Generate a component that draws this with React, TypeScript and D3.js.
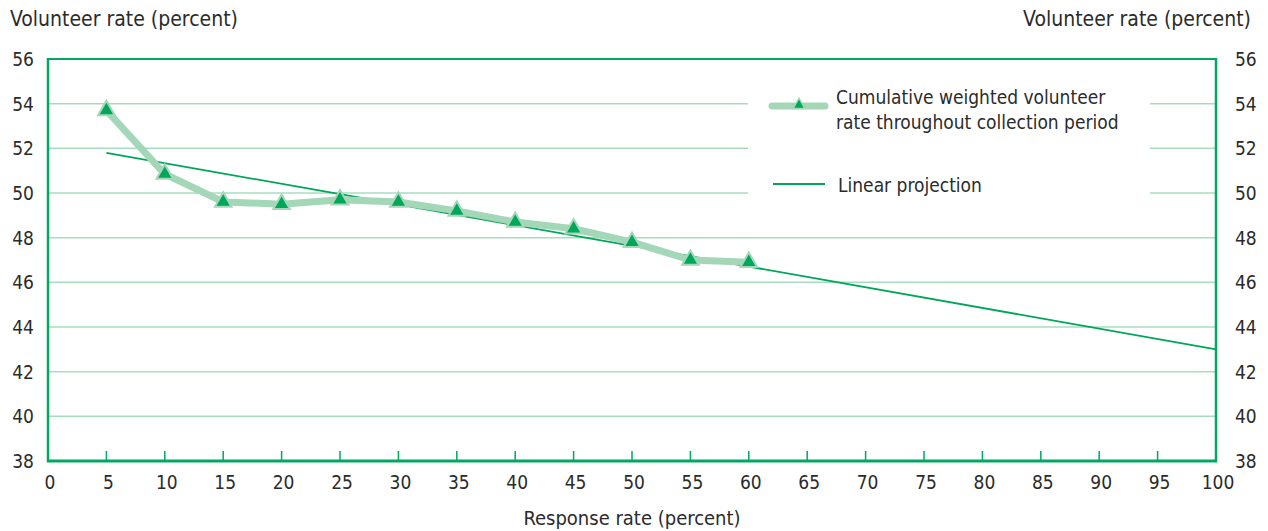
import React from "react";
import * as d3 from "d3";

const responseRates = [5, 10, 15, 20, 25, 30, 35, 40, 45, 50, 55, 60];
const volunteerRates = [53.7, 50.85, 49.6, 49.5, 49.7, 49.6, 49.2, 48.7, 48.4, 47.8, 47.0, 46.9];
const projectionX = [5, 100];
const projectionY = [51.8, 43.0];
const xTicks = d3.range(0, 101, 5);
const yTicks = d3.range(38, 57, 2);
const seriesLabelLines = ["Cumulative weighted volunteer", "rate throughout collection period"];
const projectionLabel = "Linear projection";
const yTitle = "Volunteer rate (percent)";
const xTitle = "Response rate (percent)";

const W = 1268, H = 531;
const M = { left: 48, right: 1216, top: 59, bottom: 461 };
const FONT = "'DejaVu Sans Condensed', 'Liberation Sans Narrow', Arial, sans-serif";
const TEXT = "#2b2b2b";
const FRAME = "#00a862";
const GRID = "#a8dcc0";
const SERIES_LINE = "#a3d7b8";
const MARKER = "#00a65a";

export default function App() {
  const x = d3.scaleLinear().domain([0, 100]).range([M.left, M.right]);
  const y = d3.scaleLinear().domain([38, 56]).range([M.bottom, M.top]);
  const line = d3.line<number>().x((_, i) => x(responseRates[i])).y((d) => y(d));
  const projLine = d3.line<number>().x((_, i) => x(projectionX[i])).y((d) => y(d));
  const tri = d3.symbol().type(d3.symbolTriangle).size(120)();
  const legendGapX0 = 748, legendGapX1 = 1150;

  return (
    <svg width={W} height={H} style={{ position: "absolute", left: 0, top: 0, background: "#fff" }} fontFamily={FONT}>
      {/* grid */}
      {yTicks.filter((t) => t > 38 && t < 56).map((t) => {
        const yy = y(t);
        const inGap = yy > 90 && yy < 210;
        return inGap ? (
          <g key={t}>
            <line x1={M.left} x2={legendGapX0} y1={yy} y2={yy} stroke={GRID} strokeWidth={1.5} />
            <line x1={legendGapX1} x2={M.right} y1={yy} y2={yy} stroke={GRID} strokeWidth={1.5} />
          </g>
        ) : (
          <line key={t} x1={M.left} x2={M.right} y1={yy} y2={yy} stroke={GRID} strokeWidth={1.5} />
        );
      })}
      {/* frame */}
      <line x1={M.left} x2={M.right} y1={M.top} y2={M.top} stroke={FRAME} strokeWidth={2} />
      <line x1={M.left} x2={M.left} y1={M.top - 1} y2={M.bottom + 1} stroke={FRAME} strokeWidth={2.5} />
      <line x1={M.right} x2={M.right} y1={M.top - 1} y2={M.bottom + 1} stroke={FRAME} strokeWidth={2.5} />
      <line x1={M.left - 1} x2={M.right + 1} y1={M.bottom} y2={M.bottom} stroke={FRAME} strokeWidth={3} />
      {/* x ticks */}
      {xTicks.filter((t) => t > 0 && t < 100).map((t) => (
        <line key={t} x1={x(t)} x2={x(t)} y1={M.bottom} y2={M.bottom - 10} stroke={FRAME} strokeWidth={1.5} />
      ))}
      {xTicks.map((t) => (
        <text key={t} x={x(t) + 2} y={489} textAnchor="middle" fontSize={19} fill={TEXT}>{t}</text>
      ))}
      {/* y labels */}
      {yTicks.map((t) => (
        <g key={t}>
          <text x={34} y={y(t) + 7} textAnchor="end" fontSize={19} fill={TEXT}>{t}</text>
          <text x={1235} y={y(t) + 7} textAnchor="start" fontSize={19} fill={TEXT}>{t}</text>
        </g>
      ))}
      <text x={10} y={26} fontSize={21} fill={TEXT}>{yTitle}</text>
      <text x={1251} y={26} fontSize={21} fill={TEXT} textAnchor="end">{yTitle}</text>
      <text x={632} y={525} fontSize={20} fill={TEXT} textAnchor="middle">{xTitle}</text>
      {/* projection */}
      <path d={projLine(projectionY) || ""} fill="none" stroke={MARKER} strokeWidth={1.8} />
      {/* series */}
      <path d={line(volunteerRates) || ""} fill="none" stroke={SERIES_LINE} strokeWidth={7} strokeLinejoin="round" />
      {volunteerRates.map((v, i) => (
        <path key={i} d={tri || ""} transform={`translate(${x(responseRates[i])},${y(v)})`} fill={MARKER} stroke={SERIES_LINE} strokeWidth={2} />
      ))}
      {/* legend */}
      <line x1={772} x2={825} y1={106} y2={106} stroke={SERIES_LINE} strokeWidth={7} strokeLinecap="round" />
      <path d={d3.symbol().type(d3.symbolTriangle).size(60)() || ""} transform="translate(799,105)" fill={MARKER} stroke={SERIES_LINE} strokeWidth={1.5} />
      <text x={836} y={104} fontSize={19} fill={TEXT}>{seriesLabelLines[0]}</text>
      <text x={836} y={129} fontSize={19} fill={TEXT}>{seriesLabelLines[1]}</text>
      <line x1={773} x2={825} y1={184} y2={184} stroke={MARKER} strokeWidth={1.8} />
      <text x={838} y={192} fontSize={19} fill={TEXT}>{projectionLabel}</text>
    </svg>
  );
}
